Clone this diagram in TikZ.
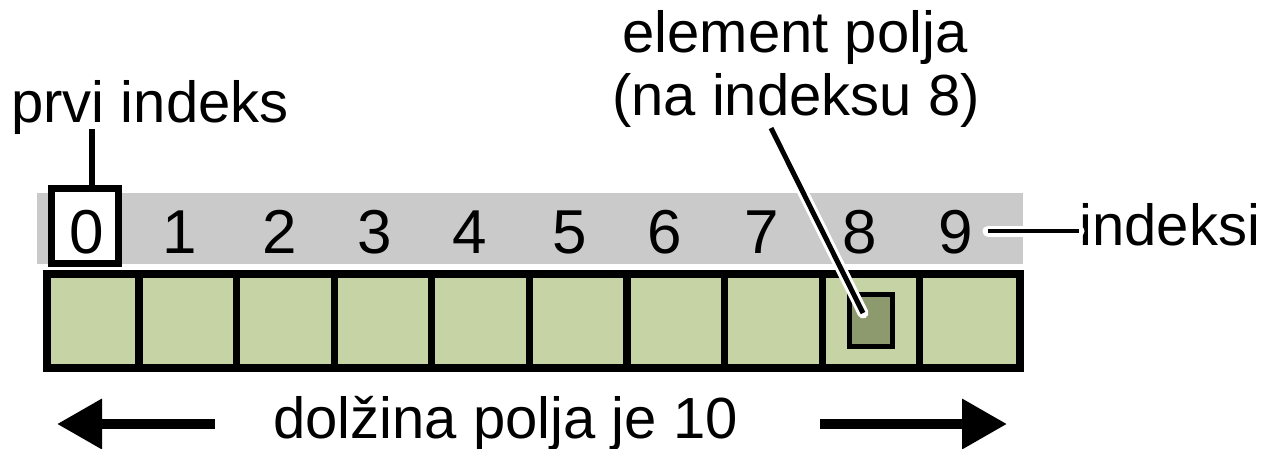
\documentclass[tikz,border=0pt]{standalone}
\usepackage{fontspec}
\setmainfont{Liberation Sans}
\usetikzlibrary{arrows.meta,calc}
\definecolor{cellgreen}{HTML}{C6D3A5}
\definecolor{elemgreen}{HTML}{8C9A6E}
\definecolor{bandgray}{HTML}{CACACA}
\begin{document}
\begin{tikzpicture}[x=0.5pt,y=-0.5pt,
  lbl/.style={font=\fontsize{29}{32}\selectfont, inner sep=0pt},
  digit/.style={font=\fontsize{31}{34}\selectfont, inner sep=0pt, anchor=base},
  cellbox/.style={draw=black, line width=3.6pt, fill=cellgreen, inner sep=0pt, minimum height=47pt},
  halo/.style={draw=white, line width=5.5pt, line cap=round},
  conn/.style={draw=black, line width=2.5pt},
  bigarrow/.style={draw=black, line width=5pt, -{Triangle[length=22.5pt,width=24pt]}}]
\useasboundingbox (0,0) rectangle (1268,449);
% index band
\node[fill=bandgray, inner sep=0pt, minimum width=493pt, minimum height=35.5pt] (band) at (530,228.5) {};
% first index box
\node[draw=black, fill=white, line width=3.5pt, inner sep=0pt, minimum width=33.5pt, minimum height=37.5pt] (firstbox) at (85,226) {};
% digits
\foreach \d/\x in {0/87,1/180,2/280,3/375,4/470,5/570,6/665,7/762,8/860,9/956}
  \node[digit] (d\d) at (\x,253) {\d};
% cells
\foreach \k/\l/\r in {0/47/139,1/139/236.6,2/236.6/334.2,3/334.2/431.8,4/431.8/529.4,5/529.4/627,6/627/724.6,7/724.6/822.2,8/822.2/919.8,9/919.8/1020}
  \node[cellbox, minimum width={(\r-\l)*0.5pt}] (c\k) at ({(\l+\r)/2},321) {};
% element box
\node[draw=black, line width=2.5pt, fill=elemgreen, inner sep=0pt, minimum width=21.5pt, minimum height=26pt] (elem) at (871,320.5) {};
% labels
\node[lbl, anchor=base west] (first) at (11,123) {prvi indeks};
\node[lbl, anchor=base] (elab1) at (795,53) {element polja};
\node[lbl, anchor=base] (elab2) at (796,116) {(na indeksu 8)};
\node[lbl, anchor=base west] (ind) at (1079,245) {indeksi};
\node[lbl, anchor=base west] (len) at (273,438) {dolžina polja je 10};
% connectors
\coordinate (fstart) at (92,129);
\draw[line width=3pt] (fstart) -- (fstart |- firstbox.north);
\coordinate (estart) at (771,128);
\coordinate (eend) at (863,313);
\draw[halo] (estart) -- (eend);
\draw[conn] (estart) -- (eend);
\coordinate (istart) at (988,231);
\draw[halo] (istart) -- (ind.west |- istart);
\draw[conn, line width=2pt] (istart) -- (ind.west |- istart);
% length arrows
\coordinate (lA) at (215,424);
\coordinate (lB) at (57,424);
\coordinate (rA) at (820,424);
\coordinate (rB) at (1007,424);
\draw[bigarrow] (lA) -- (lB);
\draw[bigarrow] (rA) -- (rB);
\end{tikzpicture}
\end{document}
